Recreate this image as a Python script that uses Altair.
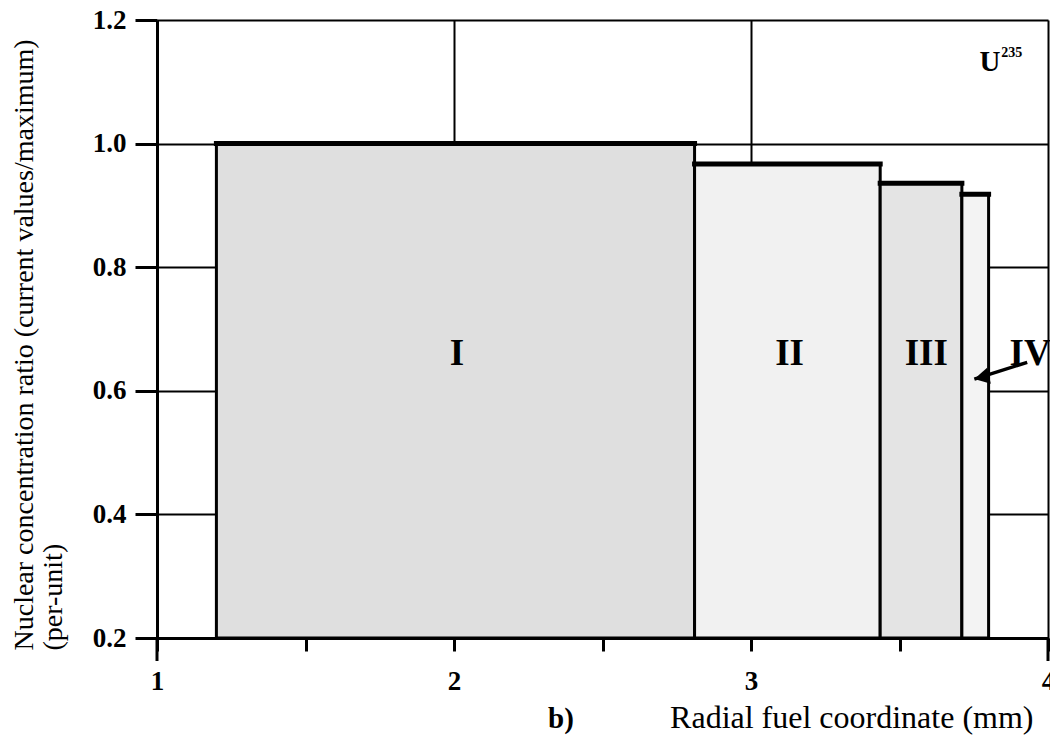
import altair as alt
import pandas as pd

# ---- data ----
region_labels = ["I", "II", "III", "IV"]
x_start = [1.20, 2.81, 3.435, 3.71]
x_end = [2.81, 3.435, 3.71, 3.80]
top_value = [1.000, 0.967, 0.936, 0.918]
fill_gray = ["#dfdfdf", "#f1f1f1", "#e4e4e4", "#f3f3f3"]
label_x = [2.01, 3.13, 3.59, 3.94]
label_y = [0.66, 0.66, 0.66, 0.66]

arrow_x = [3.93, 3.752]
arrow_y = [0.646, 0.619]

x_ticks = [1, 1.5, 2, 2.5, 3, 3.5, 4]
y_ticks = [0.2, 0.4, 0.6, 0.8, 1.0, 1.2]

FONT = "Liberation Serif"

bars = pd.DataFrame({"label": region_labels, "x0": x_start, "x1": x_end,
                     "top": top_value, "fill": fill_gray, "base": [0.2] * 4})
labels = pd.DataFrame({"label": region_labels, "x": label_x, "y": label_y})
arrow = pd.DataFrame({"x": arrow_x, "y": arrow_y, "order": [0, 1]})

xs = alt.Scale(domain=[1, 4], nice=False, zero=False)
ys = alt.Scale(domain=[0.2, 1.2], nice=False, zero=False)

x_axis = alt.Axis(
    values=x_ticks, labelExpr="datum.value % 1 == 0 ? format(datum.value, 'd') : ''",
    title="Radial fuel coordinate (mm)", titleFont=FONT, titleFontSize=32,
    titleFontWeight="normal", titleAlign="right", titleAnchor="end",
    titleX=876, titleY=89, titleBaseline="alphabetic",
    labelFont=FONT, labelFontSize=27, labelFontWeight="bold", labelPadding=17,
    labelFlush=False, labelOverlap=False, labelColor="black",
    tickSize=13, tickWidth=3, tickColor="black",
    domainColor="black", domainWidth=3,
    grid=True, gridColor="black", gridWidth=2,
    gridOpacity=alt.condition("datum.value % 1 != 0", alt.value(0), alt.value(1)),
)
y_axis = alt.Axis(
    values=y_ticks, format=".1f",
    title=["Nuclear concentration ratio (current values/maximum)", "(per-unit)"],
    titleFont=FONT, titleFontSize=28, titleFontWeight="normal",
    titleAngle=270, titleAlign="left", titleBaseline="alphabetic",
    titleX=-125, titleY=630, titleLineHeight=29,
    labelFont=FONT, labelFontSize=27, labelFontWeight="bold", labelPadding=9,
    labelColor="black",
    tickSize=22, tickWidth=3, tickColor="black",
    domainColor="black", domainWidth=3,
    grid=True, gridColor="black", gridWidth=2,
)

rects = alt.Chart(bars).mark_rect(stroke="black", strokeWidth=3).encode(
    x=alt.X("x0:Q", scale=xs, axis=x_axis),
    x2="x1:Q",
    y=alt.Y("base:Q", scale=ys, axis=y_axis),
    y2="top:Q",
    fill=alt.Fill("fill:N", scale=None),
)

tops = alt.Chart(bars).mark_rule(color="black", strokeWidth=5, strokeCap="square").encode(
    x=alt.X("x0:Q", scale=xs), x2="x1:Q", y=alt.Y("top:Q", scale=ys)
)

text = alt.Chart(labels).mark_text(font=FONT, fontSize=37, fontWeight="bold",
                                   color="black", baseline="middle").encode(
    x=alt.X("x:Q", scale=xs), y=alt.Y("y:Q", scale=ys), text="label:N"
)

arrow_line = alt.Chart(arrow).mark_line(color="black", strokeWidth=3.5).encode(
    x=alt.X("x:Q", scale=xs), y=alt.Y("y:Q", scale=ys), order="order:Q"
)
arrow_head = alt.Chart(arrow[arrow["order"] == 1]).mark_point(
    shape="M0,0L0.55,1L-0.55,1Z", filled=True, color="black", opacity=1,
    size=900, angle=257
).encode(x=alt.X("x:Q", scale=xs), y=alt.Y("y:Q", scale=ys))

iso = pd.DataFrame({"t": ["U"], "x": [3.805], "y": [1.117]})
iso_sup = pd.DataFrame({"t": ["235"], "x": [3.843], "y": [1.140]})
u_text = alt.Chart(iso).mark_text(font=FONT, fontSize=29, fontWeight="bold",
                                  color="black", baseline="alphabetic").encode(
    x=alt.X("x:Q", scale=xs), y=alt.Y("y:Q", scale=ys), text="t:N")
u_sup = alt.Chart(iso_sup).mark_text(font=FONT, fontSize=14, fontWeight="bold",
                                     color="black", align="left", baseline="alphabetic").encode(
    x=alt.X("x:Q", scale=xs), y=alt.Y("y:Q", scale=ys), text="t:N")

panel = pd.DataFrame({"t": ["b)"], "x": [2.36], "y": [0.055]})
panel_text = alt.Chart(panel).mark_text(font=FONT, fontSize=29, fontWeight="bold",
                                        color="black", baseline="alphabetic").encode(
    x=alt.X("x:Q", scale=xs), y=alt.Y("y:Q", scale=ys), text="t:N")

frame_ext = pd.DataFrame({"x": [1, 4]})
ext = alt.Chart(frame_ext).mark_rule(color="black", strokeWidth=3).encode(
    x=alt.X("x:Q", scale=xs), y=alt.value(618), y2=alt.value(641)
)

chart = alt.layer(rects, tops, text, arrow_line, arrow_head, u_text, u_sup,
                  panel_text, ext).properties(
    width=891, height=618,
    autosize=alt.AutoSizeParams(type="none"),
    padding={"left": 149, "top": 12, "right": 2, "bottom": 100},
).configure_view(stroke="black", strokeWidth=3).configure(background="white")

chart.save("out.html", embed_options={"renderer": "svg", "actions": False})
